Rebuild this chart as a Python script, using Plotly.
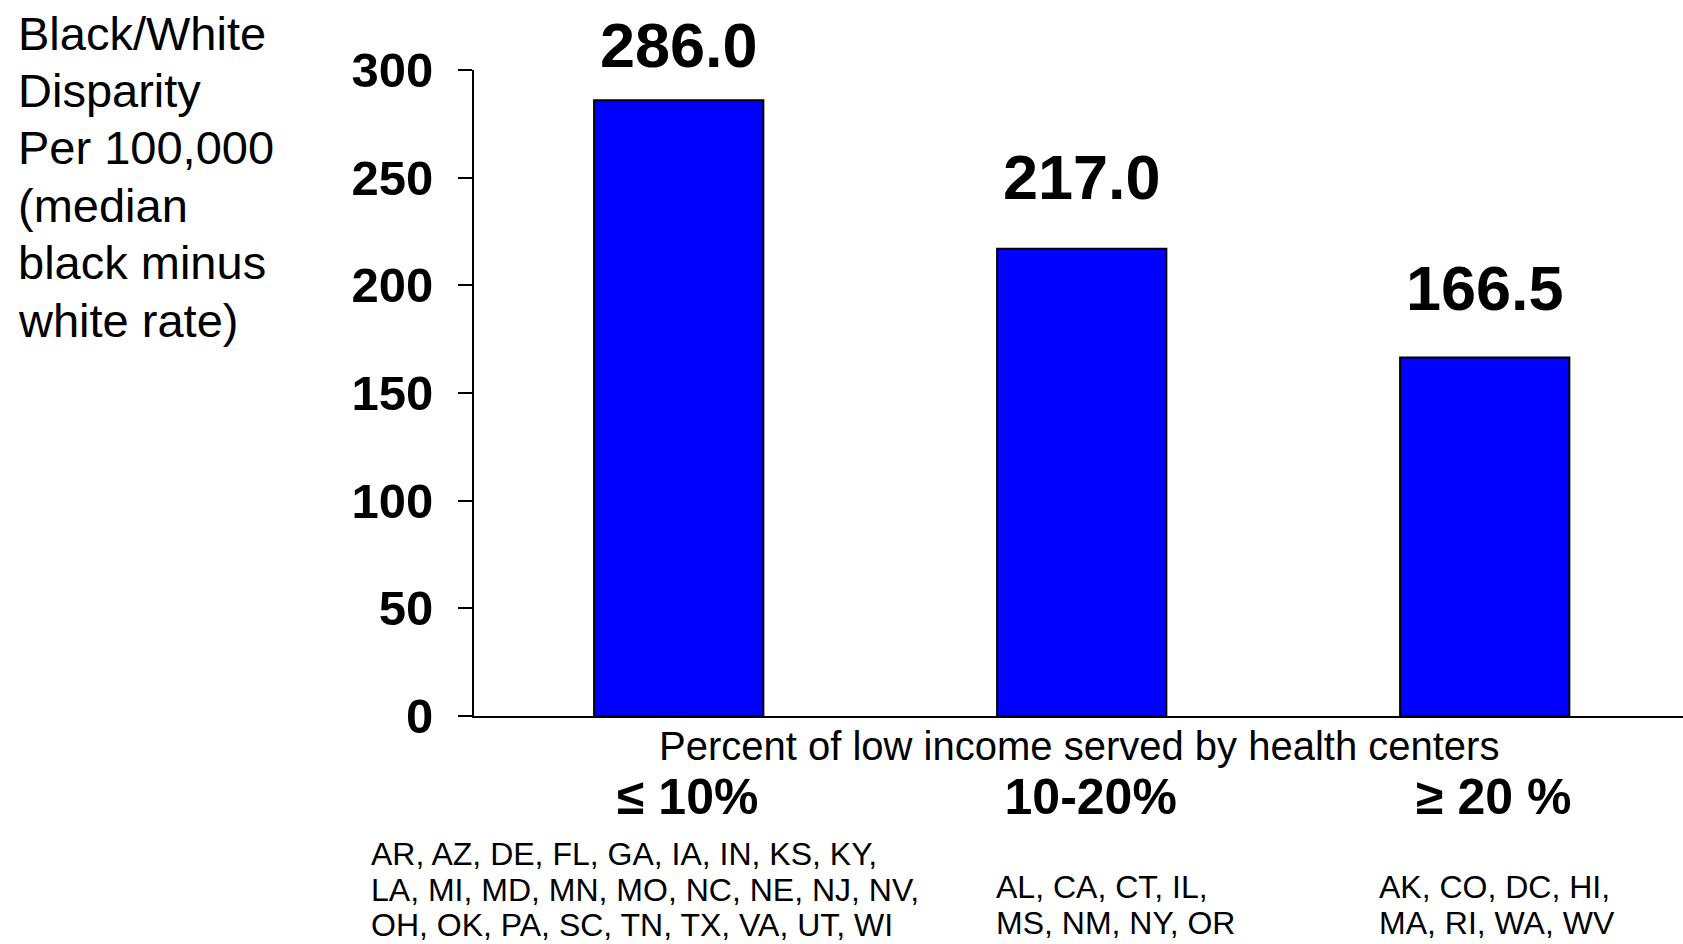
import plotly.graph_objects as go

categories = ["≤ 10%", "10-20%", "≥ 20 %"]
disparity = [286.0, 217.0, 166.5]
value_labels = ["286.0", "217.0", "166.5"]
y_ticks = [0, 50, 100, 150, 200, 250, 300]
y_title_lines = ["Black/White", "Disparity", "Per 100,000", "(median", "black minus", "white rate)"]
x_title = "Percent of low income served by health centers"
state_lines = [
    ["AR, AZ, DE, FL, GA, IA, IN, KS, KY,", "LA, MI, MD, MN, MO, NC, NE, NJ, NV,", "OH, OK, PA, SC, TN, TX, VA, UT, WI"],
    ["AL, CA, CT, IL,", "MS, NM, NY, OR"],
    ["AK, CO, DC, HI,", "MA, RI, WA, WV"],
]

FONT = "Arial, Liberation Sans, sans-serif"
W, H = 1683, 944
ML, MR, MT, MB = 474, 0, 70, 228
PH = H - MT - MB


def py(pix):
    """convert pixel y (from top) to paper coordinate"""
    return (H - MB - pix) / PH


fig = go.Figure()
fig.add_trace(go.Bar(
    x=categories, y=disparity, width=0.42,
    marker=dict(color="#0000FF", line=dict(color="black", width=2)),
    hoverinfo="x+y",
))

ann = []
label_shift = [26, 43, 40]
for c, v, t, s in zip(categories, disparity, value_labels, label_shift):
    ann.append(dict(x=c, y=v, xref="x", yref="y", text=t, showarrow=False,
                    yanchor="bottom", yshift=s - 8,
                    font=dict(family=FONT, size=63, color="black", weight="bold")))

# y-axis title lines
for i, line in enumerate(y_title_lines):
    ann.append(dict(x=0, xref="paper", xshift=-(ML - 16), xanchor="left",
                    y=py(33 + i * 57.4), yref="paper", yanchor="middle",
                    text=line, showarrow=False, align="left",
                    font=dict(family=FONT, size=47, color="black")))

# x-axis title
ann.append(dict(x=0.5, xref="paper", y=py(746), yref="paper", yanchor="middle",
                text=x_title, showarrow=False,
                font=dict(family=FONT, size=40, color="black")))

# state lists
state_x = [369, 994, 1377]
state_y0 = [854, 887, 887]
for grp, sx, sy in zip(state_lines, state_x, state_y0):
    for j, line in enumerate(grp):
        ann.append(dict(x=0, xref="paper", xshift=sx - ML, xanchor="left",
                        y=py(sy + j * 35.5), yref="paper", yanchor="middle",
                        text=line, showarrow=False, align="left",
                        font=dict(family=FONT, size=32, color="black")))

fig.update_layout(
    width=W, height=H,
    margin=dict(l=ML, r=MR, t=MT, b=MB, pad=0),
    paper_bgcolor="white", plot_bgcolor="white",
    showlegend=False,
    annotations=ann,
    bargap=0.58,
)
fig.update_xaxes(
    showline=True, linecolor="black", linewidth=2,
    showgrid=False, zeroline=False, ticks="",
    range=[-0.508, 2.492],
    tickfont=dict(family=FONT, size=50, color="black", weight="bold"),
    ticklabelstandoff=36,
    ticklabelshift=9,
)
fig.update_yaxes(
    range=[0, 300], tickvals=y_ticks,
    showline=True, linecolor="black", linewidth=2,
    showgrid=False, zeroline=False,
    ticks="outside", ticklen=14, tickwidth=2, tickcolor="black",
    tickfont=dict(family=FONT, size=49, color="black", weight="bold"),
    ticklabelstandoff=15,
)

fig.write_html("out.html", config={"displayModeBar": False},
               post_script="document.body.style.margin='0';document.body.style.overflow='hidden';")
